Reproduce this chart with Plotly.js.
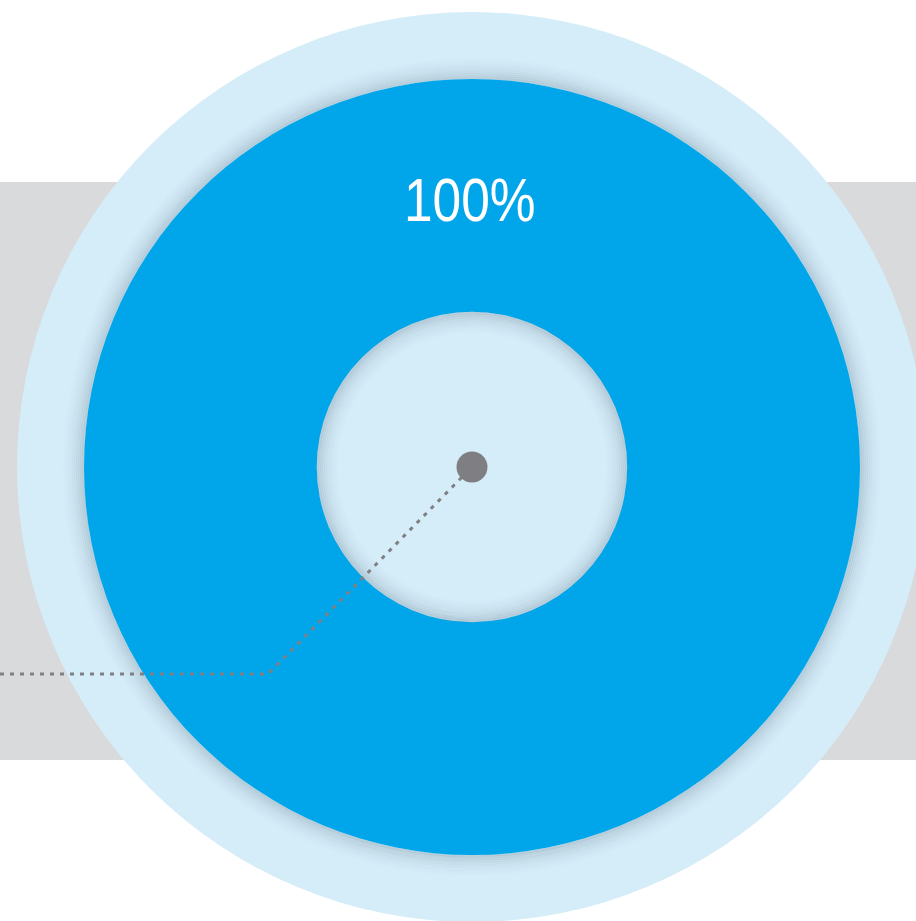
<!DOCTYPE html>
<html>
<head>
<meta charset="utf-8">
<script src="https://cdn.plot.ly/plotly-3.0.1.min.js"></script>
<style>html,body{margin:0;padding:0;background:#fff;}#chart{width:916px;height:921px;}
.annotation-text{transform-box:fill-box;transform-origin:center;transform:scaleX(0.83);}
</style>
</head>
<body>
<div id="chart"></div>
<script>
// Data
const labels = ["Share"];
const values = [100];

const W = 916, H = 921;
const cx = 472, cy = 467;
const rOuterBg = 455, rPie = 388, holeFrac = 0.4;
const rHole = rPie * holeFrac;

function px(x){ return x / W; }
function py(y){ return 1 - y / H; }
function circle(r, opts){
  return Object.assign({type:'circle', xref:'paper', yref:'paper',
    x0: px(cx - r), x1: px(cx + r), y0: py(cy + r), y1: py(cy - r)}, opts);
}

const shapes = [];
// grey band
shapes.push({type:'rect', xref:'paper', yref:'paper', x0:0, x1:1, y0:py(760), y1:py(182),
  fillcolor:'#d8dadb', line:{width:0}, layer:'below'});
// light blue disc
shapes.push(circle(rOuterBg, {fillcolor:'#d5ecf9', line:{width:0}, layer:'below'}));
// outer soft shadow around donut
const N = 12;
for (let k = 0; k < N; k++) {
  const a = 0.16 * Math.pow(1 - k/N, 2);
  shapes.push(circle(rPie + 1 + 2*k, {fillcolor:'rgba(0,0,0,0)', line:{width:2.2, color:'rgba(30,50,70,'+a.toFixed(3)+')'}, layer:'below'}));
}
// inner shadow in hole
for (let k = 0; k < N; k++) {
  const a = 0.16 * Math.pow(1 - k/N, 2);
  shapes.push(circle(rHole - 1 - 2*k, {fillcolor:'rgba(0,0,0,0)', line:{width:2.2, color:'rgba(30,50,70,'+a.toFixed(3)+')'}, layer:'above'}));
}
// dotted leader line
shapes.push({type:'path', xref:'paper', yref:'paper',
  path:'M '+px(0)+','+py(674)+' L '+px(268)+','+py(674)+' L '+px(cx)+','+py(cy),
  line:{color:'#808084', width:3, dash:'4px,6px'}, layer:'above'});
// center dot
shapes.push(circle(15.5, {fillcolor:'#7f7e83', line:{width:0}, layer:'above'}));

const total = values.reduce((a,b)=>a+b,0);
const pctText = Math.round(values[0]/total*100) + '%';

const data = [{
  type:'pie', labels: labels, values: values, hole: holeFrac,
  sort:false, direction:'clockwise',
  marker:{colors:['#00a6e9'], line:{width:0}},
  textinfo:'none', hoverinfo:'skip', showlegend:false,
  domain:{x:[px(cx - rPie), px(cx + rPie)], y:[py(cy + rPie), py(cy - rPie)]}
}];

const layout = {
  width: W, height: H,
  margin:{l:0, r:0, t:0, b:0},
  paper_bgcolor:'#ffffff', plot_bgcolor:'#ffffff',
  showlegend:false,
  shapes: shapes,
  annotations:[{
    xref:'paper', yref:'paper', x:px(470), y:py(199), xanchor:'center', yanchor:'middle',
    text: pctText, showarrow:false,
    font:{family:'"Liberation Sans", Arial, sans-serif', size:62, color:'#ffffff'}
  }]
};

Plotly.newPlot('chart', data, layout, {displayModeBar:false, staticPlot:true});
</script>
</body>
</html>
